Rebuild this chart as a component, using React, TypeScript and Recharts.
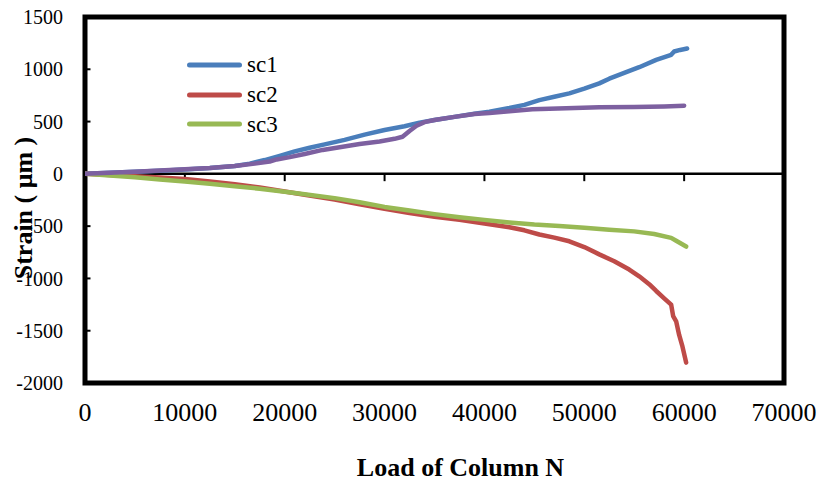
import React from 'react';
import { LineChart, Line, XAxis, YAxis, ReferenceLine, ReferenceArea, Legend } from 'recharts';

const FONT = '"Liberation Serif", "Times New Roman", serif';

const xTicks = [0, 10000, 20000, 30000, 40000, 50000, 60000, 70000];
const yTicks = [-2000, -1500, -1000, -500, 0, 500, 1000, 1500];

const sc1Load = [0, 2500, 5000, 7500, 10000, 12500, 15000, 16500, 18000, 19500, 21000, 22500, 24000, 26000, 28000, 30000, 32000, 33500, 35000, 37000, 39000, 40500, 42500, 44000, 45500, 47000, 48500, 50000, 51500, 52500, 54000, 55500, 57200, 58700, 59000, 59600, 60300];
const sc1Strain = [0, 10, 20, 30, 42, 55, 75, 98, 132, 172, 215, 250, 282, 325, 375, 420, 455, 490, 515, 545, 575, 595, 630, 660, 705, 738, 770, 815, 865, 910, 965, 1020, 1090, 1138, 1170, 1185, 1198];

const sc2Load = [0, 2500, 5000, 7500, 10000, 12500, 15000, 17500, 20000, 22000, 25000, 27500, 30000, 32500, 35000, 37500, 40000, 42500, 44000, 45500, 47000, 48500, 50000, 51500, 53000, 54500, 55500, 56500, 57200, 58000, 58700, 58900, 59200, 59500, 59800, 60200];
const sc2Strain = [0, -10, -22, -35, -50, -72, -100, -130, -168, -200, -245, -290, -335, -375, -410, -440, -475, -510, -540, -580, -610, -645, -700, -770, -835, -915, -980, -1055, -1120, -1190, -1250, -1360, -1410, -1540, -1640, -1805];

const sc3Load = [0, 2500, 5000, 7500, 10000, 12500, 15000, 17500, 20000, 22000, 25000, 27500, 30000, 32500, 35000, 37500, 40000, 42500, 45000, 47500, 50000, 52500, 55000, 57000, 58700, 59200, 60200];
const sc3Strain = [0, -15, -33, -53, -73, -95, -118, -142, -172, -195, -232, -272, -316, -350, -385, -415, -440, -465, -485, -498, -515, -535, -550, -575, -612, -640, -695];

const sc4Load = [0, 2500, 5000, 7500, 10000, 12500, 15000, 17000, 18500, 19200, 20500, 22000, 23800, 25500, 27500, 29500, 31000, 31800, 32500, 33200, 34000, 35000, 37000, 39000, 40500, 42500, 44800, 48200, 51500, 55000, 58000, 60000];
const sc4Strain = [0, 10, 20, 32, 44, 56, 75, 98, 118, 138, 160, 190, 229, 255, 285, 310, 335, 355, 410, 460, 495, 515, 545, 572, 582, 598, 618, 627, 637, 640, 645, 652];

const toRows = (xs: number[], ys: number[]) => xs.map((x, i) => ({ x, y: ys[i] }));

const sc1Data = toRows(sc1Load, sc1Strain);
const sc2Data = toRows(sc2Load, sc2Strain);
const sc3Data = toRows(sc3Load, sc3Strain);
const sc4Data = toRows(sc4Load, sc4Strain);

const renderLegend = (props: any) => {
  const items = (props.payload || []).filter((p: any) => p.type !== 'none');
  return (
    <div style={{ fontFamily: FONT }}>
      {items.map((p: any) => (
        <div key={p.value} style={{ display: 'flex', alignItems: 'center', height: 29.7 }}>
          <svg width={58} height={10} style={{ display: 'block' }}>
            <line x1={4.5} y1={5} x2={54.5} y2={5} stroke={p.color} strokeWidth={5} strokeLinecap="round" />
          </svg>
          <span style={{ marginLeft: 4, fontSize: 23, color: '#000', lineHeight: 1 }}>{p.value}</span>
        </div>
      ))}
    </div>
  );
};

export default function App() {
  return (
    <div style={{ position: 'absolute', left: 0, top: 0, width: 820, height: 481, background: '#fff' }}>
      <LineChart width={820} height={481} margin={{ top: 17, right: 36, bottom: 0, left: 0 }}>
        <XAxis
          type="number"
          dataKey="x"
          domain={[0, 70000]}
          ticks={xTicks}
          allowDataOverflow
          height={98}
          axisLine={false}
          tickLine={false}
          tickSize={0}
          tickMargin={20}
          interval={0}
          tick={{ fontSize: 26, fill: '#000', fontFamily: FONT }}
          label={{
            content: (p: any) => {
              const vb = p.viewBox;
              return (
                <text x={vb.x + vb.width / 2 + 26} y={vb.y + 93} textAnchor="middle" fontFamily={FONT} fontWeight="bold" fontSize={26} fill="#000">
                  Load of Column N
                </text>
              );
            },
          }}
        />
        <YAxis
          type="number"
          domain={[-2000, 1500]}
          ticks={yTicks}
          allowDataOverflow
          width={85}
          axisLine={false}
          tickLine={false}
          tickSize={0}
          tickMargin={22}
          interval={0}
          tick={{ fontSize: 20, fill: '#000', fontFamily: FONT }}
          label={{
            content: (p: any) => {
              const vb = p.viewBox;
              const cx = vb.x + 32;
              const cy = vb.y + vb.height / 2 + 8;
              return (
                <text x={cx} y={cy} transform={`rotate(-90, ${cx}, ${cy})`} textAnchor="middle" fontFamily={FONT} fontWeight="bold" fontSize={26} fill="#000">
                  Strain ( μm )
                </text>
              );
            },
          }}
        />
        <ReferenceLine y={0} stroke="#000" strokeWidth={2.5} />
        {xTicks.slice(1, -1).map((t) => (
          <ReferenceLine key={'xt' + t} segment={[{ x: t, y: 0 }, { x: t, y: -70 }]} stroke="#000" strokeWidth={2} />
        ))}
        {yTicks.map((t) => (
          <ReferenceLine key={'yt' + t} segment={[{ x: 0, y: t }, { x: 550, y: t }]} stroke="#000" strokeWidth={2} />
        ))}
        <Line data={sc1Data} dataKey="y" name="sc1" stroke="#4A7EBB" strokeWidth={4.5} dot={false} strokeLinecap="round" strokeLinejoin="round" isAnimationActive={false} />
        <Line data={sc2Data} dataKey="y" name="sc2" stroke="#BE4B48" strokeWidth={4.5} dot={false} strokeLinecap="round" strokeLinejoin="round" isAnimationActive={false} />
        <Line data={sc3Data} dataKey="y" name="sc3" stroke="#98B954" strokeWidth={4.5} dot={false} strokeLinecap="round" strokeLinejoin="round" isAnimationActive={false} />
        <Line data={sc4Data} dataKey="y" name="sc4" stroke="#7D60A0" strokeWidth={4.5} dot={false} strokeLinecap="round" strokeLinejoin="round" legendType="none" isAnimationActive={false} />
        <ReferenceArea x1={0} x2={70000} y1={-2000} y2={1500} fill="none" fillOpacity={0} stroke="#000" strokeWidth={5} />
        <Legend
          layout="vertical"
          align="center"
          verticalAlign="middle"
          content={renderLegend}
          wrapperStyle={{ left: 185, top: 50, width: 120, height: 90 }}
        />
      </LineChart>
    </div>
  );
}
